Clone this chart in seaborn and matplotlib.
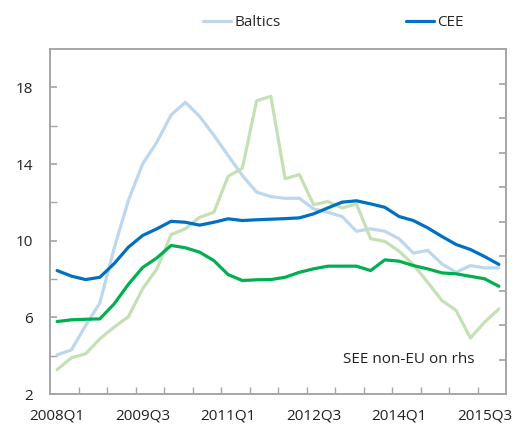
import numpy as np
import pandas as pd
import matplotlib
matplotlib.use('Agg')
import matplotlib.pyplot as plt
import seaborn as sns

# quarterly, 2008Q1 .. 2015Q4
quarters = [f"{y}Q{q}" for y in range(2008, 2016) for q in range(1, 5)]
tick_labels = ['2008Q1', '2009Q3', '2011Q1', '2012Q3', '2014Q1', '2015Q3']

baltics = [4.04, 4.30, 5.57, 6.76, 9.6, 12.1, 14.0, 15.14, 16.56, 17.22,
           16.48, 15.5, 14.44, 13.4, 12.53, 12.30, 12.21, 12.21, 11.66, 11.48,
           11.26, 10.49, 10.62, 10.49, 10.10, 9.35, 9.49, 8.79, 8.35, 8.70,
           8.58, 8.58]
cee = [8.44, 8.15, 7.97, 8.09, 8.8, 9.66, 10.27, 10.62, 11.01, 10.96,
       10.81, 10.96, 11.14, 11.05, 11.09, 11.12, 11.15, 11.19, 11.40, 11.71,
       12.01, 12.08, 11.92, 11.74, 11.26, 11.05, 10.67, 10.22, 9.80, 9.54,
       9.17, 8.76]
see_eu = [5.78, 5.87, 5.90, 5.92, 6.70, 7.72, 8.60, 9.10, 9.75, 9.63,
          9.40, 8.96, 8.23, 7.92, 7.96, 7.97, 8.09, 8.35, 8.53, 8.67,
          8.67, 8.67, 8.44, 9.00, 8.93, 8.70, 8.53, 8.32, 8.27, 8.14,
          8.01, 7.62]
see_non_eu = [3.27, 3.89, 4.10, 4.88, 5.49, 6.03, 7.49, 8.53, 10.32, 10.62,
              11.22, 11.48, 13.36, 13.78, 17.3, 17.53, 13.23, 13.45, 11.88, 12.04,
              11.71, 11.92, 10.10, 9.96, 9.45, 8.75, 7.83, 6.88, 6.36, 4.92,
              5.75, 6.44]

sns.set_theme(style='white')
plt.rcParams['font.family'] = ['Open Sans', 'DejaVu Sans']
fs = 11

x = np.arange(len(quarters))
fig = plt.figure(figsize=(5.16, 4.25), dpi=100)
ax = fig.add_axes([50/516, 1 - 394/425, 456/516, 345/425])

lw = 2.3
sns.lineplot(x=x, y=baltics, color='#BDD7EE', lw=lw, ax=ax, label='Baltics')
sns.lineplot(x=x, y=see_non_eu, color='#C5E0B4', lw=lw, ax=ax, legend=False)
sns.lineplot(x=x, y=see_eu, color='#00B050', lw=lw, ax=ax, legend=False)
sns.lineplot(x=x, y=cee, color='#0070C0', lw=lw, ax=ax, label='CEE')

ax.set_xlim(-0.5, 31.5)
ax.set_ylim(2, 20)

ax.set_xticks([quarters.index(t) for t in tick_labels])
ax.set_xticklabels(tick_labels)
ax.set_xticks(np.arange(1.5, 30, 2), minor=True)
ax.set_yticks([2, 6, 10, 14, 18])
ax.set_yticks([4, 8, 12, 16], minor=True)

ax.tick_params(axis='x', which='major', length=0, pad=10.5, labelsize=fs, colors='#222222')
ax.tick_params(axis='x', which='minor', length=5, direction='in', color='#A6A6A6', bottom=True)
ax.tick_params(axis='y', which='both', length=5, direction='in', color='#A6A6A6', left=True)
ax.tick_params(axis='y', which='major', pad=12, labelsize=fs, labelcolor='#222222')

for s in ax.spines.values():
    s.set_color('#A6A6A6')
    s.set_linewidth(1.2)

ax2 = ax.twinx()
ax2.set_ylim(0, 10)
ax2.set_yticks(range(11))
ax2.tick_params(axis='y', length=5, direction='in', color='#A6A6A6', labelright=False, right=True)
for s in ax2.spines.values():
    s.set_color('#A6A6A6')
    s.set_linewidth(1.2)

ax.text(0.642, 0.099, 'SEE non-EU on rhs', transform=ax.transAxes,
        ha='left', va='center', fontsize=fs, color='#222222')

handles, labels = ax.get_legend_handles_labels()
ax.get_legend().remove()
fig.legend(handles, labels, loc='center left', bbox_to_anchor=(203/516, 1 - 23/425),
           ncol=2, frameon=False, fontsize=fs, handlelength=1.85, handletextpad=0.2,
           columnspacing=8.2, borderpad=0, borderaxespad=0)

fig.savefig('out.png', dpi=100)
